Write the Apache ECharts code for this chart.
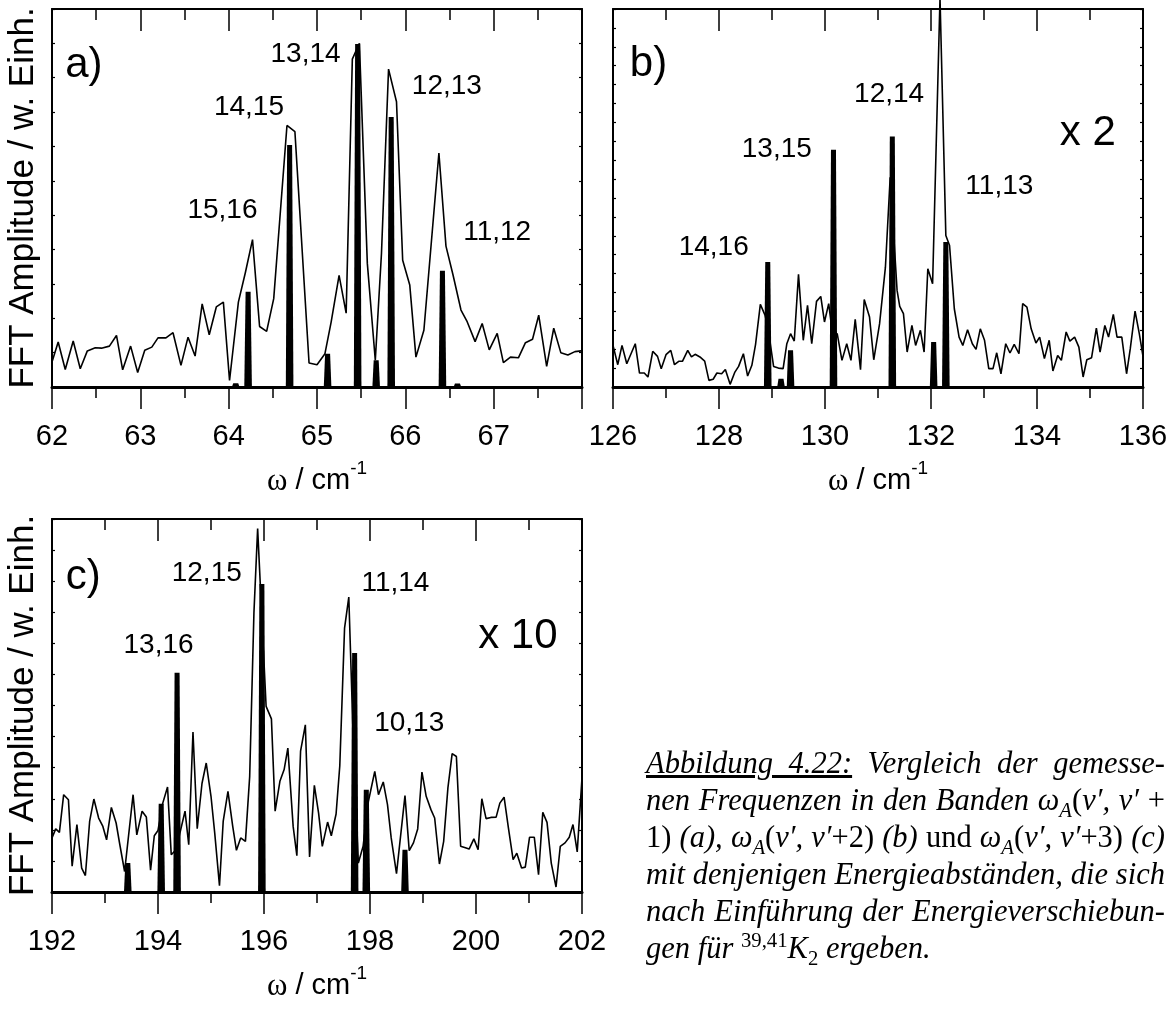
<!DOCTYPE html>
<html><head><meta charset="utf-8">
<script src="https://cdn.jsdelivr.net/npm/echarts@6/dist/echarts.min.js"></script>
<style>
html,body{margin:0;padding:0;background:#fff;}
#chart{position:absolute;left:0;top:0;width:1173px;height:1012px;}
#cap{position:absolute;left:646px;top:745px;width:519px;font-family:'Liberation Serif','Times New Roman',serif;font-size:30.5px;line-height:37px;color:#000;font-style:italic;}
#cap div{white-space:nowrap;text-align:justify;text-align-last:justify;}
#cap div.last{text-align:left;text-align-last:left;}
#cap .up{font-style:normal;}
#cap sub,#cap sup{font-size:0.68em;line-height:0;}
</style></head><body>
<div id="chart"></div>
<div id="cap">
<div><u>Abbildung 4.22:</u> Vergleich der gemesse-</div>
<div>nen Frequenzen in den Banden ω<sub>A</sub><span class="up">(</span>v′, v′ <span class="up">+</span></div>
<div><span class="up">1)</span> (a), ω<sub>A</sub><span class="up">(</span>v′, v′<span class="up">+2)</span> (b) <span class="up">und</span> ω<sub>A</sub><span class="up">(</span>v′, v′<span class="up">+3)</span> (c)</div>
<div>mit denjenigen Energieabständen, die sich</div>
<div>nach Einführung der Energieverschiebun-</div>
<div class="last">gen für <sup class="up">39,41</sup>K<sub class="up">2</sub> ergeben.</div>
</div>
<script>
// ---------- data ----------
const lineA = [[62.00,0.73],[62.07,1.31],[62.15,0.51],[62.24,1.34],[62.32,0.53],[62.40,1.05],[62.49,1.14],[62.56,1.13],[62.65,1.19],[62.73,1.50],[62.80,0.50],[62.89,1.19],[62.97,0.42],[63.05,1.07],[63.13,1.16],[63.20,1.43],[63.29,1.43],[63.37,1.58],[63.46,0.63],[63.54,1.45],[63.62,0.90],[63.70,2.42],[63.78,1.52],[63.86,2.33],[63.94,2.47],[64.01,0.19],[64.11,2.47],[64.19,3.34],[64.27,4.29],[64.35,1.76],[64.43,1.62],[64.51,2.57],[64.66,7.61],[64.75,7.43],[64.91,0.70],[65.00,0.65],[65.09,0.97],[65.16,1.89],[65.25,3.25],[65.33,2.15],[65.40,9.54],[65.48,10.0],[65.57,3.59],[65.66,0.78],[65.73,3.89],[65.81,9.25],[65.90,8.30],[65.97,3.69],[66.05,2.97],[66.12,0.87],[66.21,1.65],[66.38,6.81],[66.46,4.10],[66.54,3.26],[66.63,2.24],[66.70,1.90],[66.79,1.32],[66.87,1.85],[66.95,1.08],[67.04,1.56],[67.11,0.71],[67.19,0.87],[67.28,0.85],[67.36,1.29],[67.44,1.39],[67.51,2.09],[67.60,0.60],[67.68,1.71],[67.76,1.00],[67.84,0.93],[67.92,1.03],[67.99,1.05]];
const sticksA = [[64.08,0.11],[64.22,2.77],[64.69,7.04],[65.12,0.97],[65.46,9.98],[65.67,0.78],[65.84,7.86],[66.42,3.38],[66.59,0.10]];
const labelsA = [['15,16',63.93,5.15],['14,15',64.23,8.15],['13,14',64.87,9.69],['12,13',66.47,8.74],['11,12',67.04,4.51]];
const tagsA = [['a)',62.36,9.37]];

const lineB = [[126.00,2.20],[126.09,1.18],[126.17,2.20],[126.26,1.23],[126.42,2.29],[126.50,0.74],[126.59,0.74],[126.66,0.53],[126.75,1.89],[126.84,1.62],[126.91,0.97],[127.00,1.71],[127.09,1.94],[127.16,1.18],[127.24,1.36],[127.31,1.36],[127.41,1.94],[127.48,1.59],[127.55,1.73],[127.64,1.59],[127.73,1.37],[127.81,0.35],[127.89,0.41],[127.96,0.74],[128.05,0.70],[128.12,0.93],[128.21,0.14],[128.30,0.79],[128.37,1.09],[128.46,1.76],[128.54,0.58],[128.62,1.15],[128.69,2.26],[128.78,4.37],[128.87,3.79],[128.94,2.82],[129.03,1.09],[129.12,1.00],[129.21,0.97],[129.28,2.29],[129.35,2.82],[129.42,2.43],[129.50,5.96],[129.59,2.47],[129.67,4.32],[129.75,2.29],[129.84,4.53],[129.92,4.79],[129.99,3.44],[130.07,4.41],[130.14,2.82],[130.23,2.82],[130.32,1.41],[130.41,2.29],[130.49,1.41],[130.57,3.58],[130.67,0.92],[130.74,4.63],[130.84,3.70],[130.92,1.44],[131.03,3.35],[131.14,6.34],[131.23,11.10],[131.36,5.11],[131.41,4.26],[131.48,3.88],[131.55,1.85],[131.64,3.26],[131.71,2.20],[131.80,3.00],[131.87,1.85],[131.94,6.26],[132.03,5.46],[132.17,20.6],[132.28,8.02],[132.35,7.49],[132.44,4.14],[132.53,2.64],[132.60,2.20],[132.69,3.03],[132.78,2.29],[132.85,1.99],[132.93,3.08],[133.01,2.47],[133.09,0.97],[133.17,0.97],[133.24,1.81],[133.32,0.70],[133.41,2.29],[133.49,1.80],[133.57,2.26],[133.66,1.76],[133.73,4.41],[133.81,4.23],[133.89,3.08],[133.98,2.33],[134.05,2.64],[134.14,1.50],[134.23,2.47],[134.30,0.85],[134.39,1.67],[134.46,1.41],[134.55,2.91],[134.62,2.43],[134.71,2.64],[134.79,2.11],[134.87,0.53],[134.94,1.44],[135.03,1.55],[135.12,3.12],[135.19,1.85],[135.28,3.26],[135.35,2.64],[135.44,3.84],[135.51,2.64],[135.60,2.64],[135.69,0.70],[135.76,2.03],[135.85,4.02],[135.93,2.82],[136.00,1.62]];
const sticksB = [[128.92,6.61],[129.17,0.44],[129.35,1.94],[130.16,12.55],[131.27,13.25],[132.05,2.38],[132.28,7.67]];
const labelsB = [['14,16',127.90,7.37],['13,15',129.09,12.56],['12,14',131.21,15.47],['11,13',133.29,10.63]];
const tagsB = [['b)',126.67,17.09],['x 2',134.96,13.44]];

const lineC = [[192.00,1.74],[192.07,2.03],[192.14,1.92],[192.22,3.13],[192.31,2.97],[192.38,0.83],[192.47,2.17],[192.56,0.77],[192.63,0.53],[192.71,2.27],[192.79,2.99],[192.88,2.38],[192.96,2.11],[193.03,1.68],[193.12,2.72],[193.21,2.22],[193.28,1.52],[193.37,0.66],[193.53,3.13],[193.60,1.84],[193.70,2.60],[193.78,2.41],[193.86,0.70],[193.93,1.81],[194.00,1.98],[194.09,2.86],[194.18,3.38],[194.25,1.20],[194.34,1.36],[194.51,2.60],[194.58,1.52],[194.66,5.15],[194.74,2.04],[194.83,3.49],[194.91,4.15],[195.00,3.08],[195.07,1.90],[195.16,0.20],[195.23,2.27],[195.32,3.24],[195.41,2.11],[195.48,1.34],[195.56,1.74],[195.65,1.63],[195.73,3.72],[195.81,8.98],[195.88,11.69],[196.04,5.97],[196.14,5.57],[196.21,2.60],[196.30,3.56],[196.38,3.94],[196.45,4.63],[196.55,2.11],[196.62,1.17],[196.69,4.53],[196.78,5.38],[196.86,1.13],[196.95,3.43],[197.03,2.54],[197.10,1.47],[197.20,2.25],[197.27,1.81],[197.36,2.51],[197.43,4.06],[197.52,8.49],[197.60,9.49],[197.68,5.12],[197.78,0.93],[197.87,1.47],[197.97,2.92],[198.09,3.88],[198.16,3.13],[198.25,3.54],[198.33,2.81],[198.40,1.74],[198.50,0.59],[198.66,3.10],[198.74,1.33],[198.82,1.58],[198.90,2.03],[198.98,3.86],[199.06,3.08],[199.15,2.65],[199.22,2.38],[199.31,0.90],[199.39,1.63],[199.47,3.35],[199.55,4.45],[199.63,4.36],[199.71,1.47],[199.80,1.42],[199.87,1.38],[199.96,1.71],[200.04,1.36],[200.11,3.00],[200.19,2.36],[200.28,2.40],[200.38,2.41],[200.45,2.86],[200.53,3.05],[200.61,2.08],[200.70,1.04],[200.77,1.25],[200.86,0.77],[200.93,0.80],[201.01,1.76],[201.10,1.76],[201.18,0.56],[201.26,2.56],[201.34,2.24],[201.42,0.93],[201.51,0.16],[201.59,1.47],[201.68,1.58],[201.76,1.76],[201.83,2.17],[201.91,1.29],[202.00,3.67]];
const sticksC = [[193.43,0.93],[194.06,2.84],[194.36,7.05],[195.96,9.91],[197.71,7.69],[197.93,3.29],[198.66,1.36]];
const labelsC = [['13,16',194.01,7.94],['12,15',194.92,10.24],['11,14',198.48,9.92],['10,13',198.74,5.42]];
const tagsC = [['c)',192.59,10.13],['x 10',200.79,8.23]];

const xRangeA = [62, 68, 1]; const xRangeB = [126, 136, 2]; const xRangeC = [192, 202, 2];
const yMaxA = 11, yMaxB = 20, yMaxC = 12;
const yTitle = 'FFT Amplitude / w. Einh.';

// ---------- build ----------
const SANS = "'Liberation Sans', Arial, sans-serif";
const SERIF = "'Liberation Serif', 'Times New Roman', serif";
const grids = [
  {left: 52, top: 9, width: 530, height: 378},
  {left: 613, top: 9, width: 530, height: 378},
  {left: 52, top: 519, width: 530, height: 373}
];
const panels = [
  {xr: xRangeA, ymax: yMaxA, line: lineA, sticks: sticksA, labels: labelsA, tags: tagsA, ytitle: true, showMax: false, clip: true},
  {xr: xRangeB, ymax: yMaxB, line: lineB, sticks: sticksB, labels: labelsB, tags: tagsB, ytitle: false, showMax: true, clip: false},
  {xr: xRangeC, ymax: yMaxC, line: lineC, sticks: sticksC, labels: labelsC, tags: tagsC, ytitle: true, showMax: true, clip: true}
];
const K = '#000';
const xAxes = [], yAxes = [], series = [];
panels.forEach((p, g) => {
  xAxes.push({
    type: 'value', gridIndex: g, position: 'bottom', min: p.xr[0], max: p.xr[1], interval: p.xr[2],
    axisLine: {show: true, onZero: false, lineStyle: {color: K, width: 3}},
    axisTick: {show: true, inside: false, length: 22, lineStyle: {color: K, width: 1.5}},
    minorTick: {show: true, splitNumber: 2, length: 11, lineStyle: {color: K, width: 1.5}},
    axisLabel: {show: true, fontSize: 29, fontFamily: SANS, color: K, margin: 35, showMaxLabel: p.showMax, showMinLabel: true},
    splitLine: {show: false}, minorSplitLine: {show: false},
    name: '{w|ω}{c| / cm}{s|-1}', nameLocation: 'middle', nameGap: 68,
    nameTextStyle: {rich: {
      w: {fontFamily: SERIF, fontSize: 31, color: K, padding: [14, 0, 0, 0], lineHeight: 31},
      c: {fontFamily: SANS, fontSize: 29, color: K, padding: [14, 0, 0, 0], lineHeight: 29},
      s: {fontFamily: SANS, fontSize: 19, color: K, verticalAlign: 'top', lineHeight: 19}
    }}
  });
  xAxes.push({
    type: 'value', gridIndex: g, position: 'top', min: p.xr[0], max: p.xr[1], interval: p.xr[2],
    axisLine: {show: true, onZero: false, lineStyle: {color: K, width: 2}},
    axisTick: {show: true, inside: true, length: 22, lineStyle: {color: K, width: 1.5}},
    minorTick: {show: true, splitNumber: 2, length: 11, lineStyle: {color: K, width: 1.5}},
    axisLabel: {show: false}, splitLine: {show: false}
  });
  const yBase = {
    type: 'value', gridIndex: g, min: 0, max: p.ymax, interval: 1,
    axisLine: {show: true, onZero: false, lineStyle: {color: K, width: 2}},
    axisTick: {show: true, inside: true, length: 3, lineStyle: {color: K, width: 1.2}},
    axisLabel: {show: false}, splitLine: {show: false}
  };
  yAxes.push(Object.assign({}, yBase, {position: 'left'},
    p.ytitle ? {name: yTitle, nameLocation: 'middle', nameRotate: 90, nameGap: 11,
      nameTextStyle: {fontSize: 35, fontFamily: SANS, color: K}} : {}));
  yAxes.push(Object.assign({}, yBase, {position: 'right'}));

  series.push({
    type: 'line', xAxisIndex: 2 * g, yAxisIndex: 2 * g, data: p.line, showSymbol: false, symbol: 'none',
    clip: p.clip, lineStyle: {color: K, width: 1.6}, silent: true, z: 3
  });
  series.push({
    type: 'custom', xAxisIndex: 2 * g, yAxisIndex: 2 * g, data: p.sticks, encode: {x: 0, y: 1}, silent: true, z: 4,
    renderItem: function (params, api) {
      const w = api.value(0), h = api.value(1);
      const b = api.coord([w, 0]), t = api.coord([w, h]);
      return {type: 'polygon', shape: {points: [[b[0] - 3.8, b[1]], [t[0] - 2.5, t[1]], [t[0] + 2.5, t[1]], [b[0] + 3.8, b[1]]]},
        style: {fill: K}};
    }
  });
  series.push({
    type: 'scatter', xAxisIndex: 2 * g, yAxisIndex: 2 * g, symbolSize: 0, silent: true, z: 5,
    itemStyle: {opacity: 1}, emphasis: {disabled: true},
    data: p.labels.map(l => [l[1], l[2], l[0]]),
    label: {show: true, position: 'inside', formatter: q => q.value[2], fontSize: 28, fontFamily: SANS, color: K, opacity: 1}
  });
  series.push({
    type: 'scatter', xAxisIndex: 2 * g, yAxisIndex: 2 * g, symbolSize: 0, silent: true, z: 5,
    itemStyle: {opacity: 1}, emphasis: {disabled: true},
    data: p.tags.map(l => [l[1], l[2], l[0]]),
    label: {show: true, position: 'inside', formatter: q => q.value[2], fontSize: 42, fontFamily: SANS, color: K, opacity: 1}
  });
});

const chart = echarts.init(document.getElementById('chart'), null, {renderer: 'canvas'});
chart.setOption({
  animation: false,
  backgroundColor: '#fff',
  grid: grids,
  xAxis: xAxes,
  yAxis: yAxes,
  series: series
});
</script>
</body></html>
